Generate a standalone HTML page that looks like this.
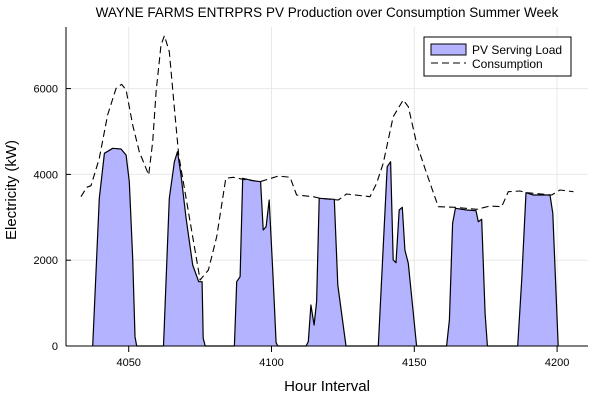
<!DOCTYPE html>
<html><head><meta charset="utf-8"><style>
body{margin:0;background:#fff}
svg{display:block;font-family:"Liberation Sans","DejaVu Sans",sans-serif}
</style></head><body>
<svg id="chart" width="600" height="400">
<text x="327" y="17" text-anchor="middle" font-size="13.5">WAYNE FARMS ENTRPRS PV Production over Consumption Summer Week</text>
<g id="grid"></g>
<g id="marks"></g>
<g id="axes"></g>
<text x="327" y="391" text-anchor="middle" font-size="15">Hour Interval</text>
<text transform="translate(16,190) rotate(-90)" text-anchor="middle" font-size="15">Electricity (kW)</text>
<g>
<rect x="424" y="37" width="147" height="39" fill="#fff" stroke="#000" stroke-width="1"/>
<g>
<rect x="431" y="44" width="35" height="11" fill="#b3b3ff" stroke="#000" stroke-width="1"/>
<text x="472" y="54" font-size="12">PV Serving Load</text></g>
<g>
<line x1="431" y1="63" x2="466" y2="63" stroke="#000" stroke-dasharray="7,4"/>
<text x="472" y="68" font-size="12">Consumption</text></g>
</g>
</svg>
<script>
const consHours=[4033.3,4035.3,4036.8,4039.7,4042.6,4045.6,4047.5,4049.1,4051.4,4053.7,4057.0,4058.4,4059.6,4061.3,4062.5,4064.2,4066.0,4067.5,4075.0,4077.9,4080.8,4084.0,4086.6,4090.1,4096.0,4102.4,4106.5,4108.8,4114.6,4117.0,4123.4,4126.3,4134.5,4136.8,4139.1,4142.6,4146.1,4147.9,4150.8,4154.3,4158.4,4164.3,4171.8,4176.5,4180.6,4182.9,4187.0,4189.4,4198.1,4201.0,4205.7];
const consValues=[3480,3700,3737,4375,5385,6007,6100,5967,5152,4529,3986,4762,5928,7016,7233,6860,5541,4452,1538,1772,2548,3909,3932,3886,3830,3963,3932,3520,3480,3443,3403,3543,3480,3793,4259,5345,5734,5578,4725,4026,3247,3233,3187,3263,3247,3597,3613,3573,3520,3636,3597];
const pvHours=[4037.4,4039.7,4041.5,4044.4,4047.3,4049.1,4050.2,4051.4,4052.2,4052.8,4062.2,4064.2,4066.0,4067.1,4068.3,4070.1,4072.4,4074.5,4075.7,4076.1,4076.8,4087.0,4087.8,4089.0,4089.9,4093.6,4096.2,4097.1,4098.1,4099.2,4100.6,4101.6,4102.2,4112.1,4112.9,4113.8,4114.9,4115.8,4116.7,4122.0,4123.2,4126.1,4137.4,4140.5,4141.7,4142.6,4143.6,4144.7,4145.8,4146.7,4147.9,4150.8,4161.3,4162.3,4163.4,4164.4,4168.3,4171.6,4172.4,4173.6,4174.8,4175.6,4186.2,4187.6,4189.1,4191.7,4197.5,4198.5,4200.4];
const pvValues=[0,3443,4492,4608,4592,4452,3830,2044,217,0,0,3443,4296,4529,3986,2977,1888,1499,1499,179,0,0,1499,1615,3909,3853,3830,2704,2781,3403,1538,77,0,0,100,956,490,1033,3443,3420,1422,0,0,4180,4296,2005,1942,3170,3233,2238,1928,0,0,606,2860,3210,3170,3154,2897,2953,762,0,0,1538,3573,3520,3520,3093,0];
const xTicks=[4050,4100,4150,4200];
const yTicks=[0,2000,4000,6000];

const NS="http://www.w3.org/2000/svg";
const L=66,R=588,T=27,B=346;
const X=h=>128.7+(h-4050)*2.856;
const Y=v=>346-v*0.0429;
function mk(tag,attrs,parent){const e=document.createElementNS(NS,tag);for(const k in attrs)e.setAttribute(k,attrs[k]);parent.appendChild(e);return e;}
const grid=document.getElementById('grid'),axes=document.getElementById('axes'),marks=document.getElementById('marks');
xTicks.forEach(t=>{
  const g=mk('line',{x1:X(t),x2:X(t),y1:T,y2:B,stroke:'#e8e8e8','stroke-width':1},grid);
  
  
  mk('line',{x1:X(t),x2:X(t),y1:B,y2:B+6,stroke:'#000'},axes);
  const tx=mk('text',{x:X(t),y:B+20,'text-anchor':'middle','font-size':11},axes);
  tx.textContent=t;
  
  
});
yTicks.forEach(t=>{
  const g=mk('line',{x1:L,x2:R,y1:Y(t),y2:Y(t),stroke:'#e8e8e8','stroke-width':1},grid);
  
  
  mk('line',{x1:L,x2:L+5,y1:Y(t),y2:Y(t),stroke:'#000'},axes);
  const tx=mk('text',{x:L-8,y:Y(t)+4,'text-anchor':'end','font-size':11},axes);
  tx.textContent=t;
  
  
});
mk('line',{x1:L,x2:L,y1:T,y2:B,stroke:'#000'},axes);
mk('line',{x1:L,x2:R,y1:B,y2:B,stroke:'#000'},axes);

let pts=pvHours.map((h,i)=>X(h).toFixed(1)+','+Y(pvValues[i]).toFixed(1));
const area=mk('polygon',{points:X(pvHours[0])+','+Y(0)+' '+pts.join(' ')+' '+X(pvHours[pvHours.length-1])+','+Y(0),fill:'#b3b3ff',stroke:'none'},marks);


const pvl=mk('polyline',{points:pts.join(' '),fill:'none',stroke:'#000','stroke-width':1.2,'stroke-linejoin':'round'},marks);


const cp=consHours.map((h,i)=>X(h).toFixed(1)+','+Y(consValues[i]).toFixed(1)).join(' ');
const cl=mk('polyline',{points:cp,fill:'none',stroke:'#000','stroke-width':1.1,'stroke-dasharray':'7,4','stroke-linejoin':'round'},marks);


</script>
</body></html>
